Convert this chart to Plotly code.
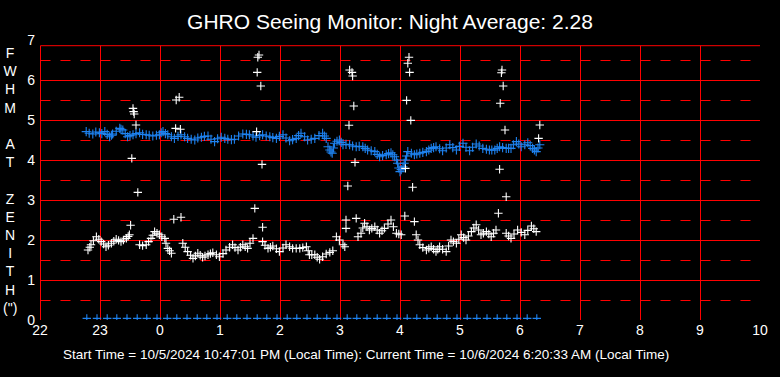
import plotly.graph_objects as go

# ---------------- data ----------------
title_text = "GHRO Seeing Monitor: Night Average: 2.28"
footer_text = "Start Time = 10/5/2024 10:47:01 PM (Local Time): Current Time = 10/6/2024 6:20:33 AM (Local Time)"
y_label_letters = ["F", "W", "H", "M", "", "A", "T", "", "Z", "E", "N", "I", "T", "H", "(\")"]

x_tick_vals = [22, 23, 24, 25, 26, 27, 28, 29, 30, 31, 32, 33, 34]
x_tick_text = ["22", "23", "0", "1", "2", "3", "4", "5", "6", "7", "8", "9", "10"]
y_tick_vals = [0, 1, 2, 3, 4, 5, 6, 7]

# blue series (hours since midnight of start day, FWHM)
blue_t = [22.77, 22.82, 22.88, 22.93, 22.99, 23.03, 23.08, 23.12, 23.16, 23.19, 23.21, 23.27, 23.33, 23.35,
          23.38, 23.42, 23.46, 23.50, 23.55, 23.60, 23.66, 23.71, 23.77, 23.82, 23.88, 23.94, 23.99, 24.02,
          24.05, 24.09, 24.13, 24.19, 24.24, 24.30, 24.35, 24.41, 24.46, 24.52, 24.58, 24.63, 24.69, 24.74,
          24.80, 24.85, 24.91, 24.96, 25.02, 25.08, 25.13, 25.19, 25.24, 25.31, 25.38, 25.44, 25.49, 25.55,
          25.60, 25.66, 25.71, 25.77, 25.83, 25.88, 25.94, 25.99, 26.05, 26.10, 26.16, 26.21, 26.27, 26.31,
          26.35, 26.41, 26.46, 26.52, 26.58, 26.65, 26.71, 26.74, 26.77, 26.80, 26.83, 26.85, 26.87, 26.89,
          26.91, 26.95, 26.99, 27.02, 27.05, 27.10, 27.16, 27.21, 27.27, 27.32, 27.38, 27.42, 27.46, 27.52,
          27.58, 27.62, 27.66, 27.71, 27.77, 27.81, 27.85, 27.88, 27.91, 27.94, 27.96, 27.98, 28.00, 28.02,
          28.05, 28.07, 28.09, 28.11, 28.13, 28.19, 28.24, 28.28, 28.33, 28.38, 28.44, 28.48, 28.52, 28.56,
          28.60, 28.66, 28.71, 28.77, 28.83, 28.88, 28.94, 28.99, 29.05, 29.10, 29.16, 29.21, 29.27, 29.32,
          29.38, 29.44, 29.49, 29.53, 29.58, 29.62, 29.66, 29.71, 29.77, 29.81, 29.85, 29.89, 29.94, 29.98,
          30.02, 30.08, 30.13, 30.17, 30.21, 30.24, 30.27, 30.30, 30.33]
blue_v = [4.71, 4.67, 4.65, 4.70, 4.68, 4.66, 4.71, 4.64, 4.58, 4.62, 4.65, 4.72, 4.79, 4.77,
          4.75, 4.66, 4.58, 4.61, 4.63, 4.66, 4.68, 4.64, 4.63, 4.62, 4.60, 4.62, 4.63, 4.68,
          4.71, 4.66, 4.63, 4.58, 4.54, 4.59, 4.63, 4.58, 4.54, 4.52, 4.50, 4.55, 4.57, 4.59,
          4.60, 4.52, 4.46, 4.53, 4.57, 4.54, 4.52, 4.51, 4.52, 4.60, 4.65, 4.64, 4.63, 4.60,
          4.57, 4.61, 4.63, 4.60, 4.58, 4.56, 4.54, 4.59, 4.63, 4.55, 4.48, 4.51, 4.54, 4.61,
          4.67, 4.58, 4.50, 4.52, 4.54, 4.61, 4.67, 4.60, 4.54, 4.33, 4.25, 4.20, 4.17, 4.30,
          4.42, 4.47, 4.50, 4.44, 4.38, 4.39, 4.38, 4.35, 4.33, 4.34, 4.33, 4.29, 4.25, 4.23,
          4.21, 4.14, 4.08, 4.11, 4.13, 4.16, 4.18, 4.13, 4.08, 4.00, 3.92, 3.80, 3.71, 3.76,
          3.83, 3.92, 4.00, 4.10, 4.21, 4.17, 4.13, 4.15, 4.17, 4.19, 4.21, 4.25, 4.29, 4.31,
          4.33, 4.28, 4.23, 4.30, 4.38, 4.31, 4.25, 4.34, 4.42, 4.32, 4.23, 4.32, 4.40, 4.35,
          4.29, 4.27, 4.25, 4.25, 4.25, 4.29, 4.33, 4.31, 4.29, 4.29, 4.29, 4.38, 4.46, 4.40,
          4.33, 4.38, 4.43, 4.36, 4.29, 4.25, 4.21, 4.30, 4.38]

# white series
white_t = [22.80, 22.83, 22.85, 22.89, 22.94, 22.98, 23.02, 23.06, 23.10, 23.14, 23.19, 23.23, 23.27, 23.31,
           23.35, 23.39, 23.44, 23.47, 23.49, 23.66, 23.71, 23.77, 23.81, 23.85, 23.88, 23.91, 23.95, 23.99,
           24.03, 24.08, 24.10, 24.13, 24.16, 24.19, 24.38, 24.42, 24.46, 24.51, 24.55, 24.59, 24.63, 24.67,
           24.71, 24.75, 24.80, 24.84, 24.88, 24.94, 24.99, 25.05, 25.10, 25.16, 25.21, 25.25, 25.30, 25.34,
           25.38, 25.42, 25.46, 25.50, 25.55, 25.71, 25.75, 25.80, 25.84, 25.88, 25.94, 25.99, 26.05, 26.10,
           26.16, 26.21, 26.27, 26.33, 26.38, 26.44, 26.47, 26.49, 26.53, 26.58, 26.62, 26.66, 26.71, 26.77,
           26.83, 26.88, 26.94, 26.99, 27.05, 27.08, 27.30, 27.35, 27.38, 27.41, 27.45, 27.49, 27.53, 27.58,
           27.62, 27.66, 27.70, 27.74, 27.80, 27.85, 27.89, 27.94, 27.98, 28.02, 28.27, 28.30, 28.33, 28.38,
           28.44, 28.48, 28.52, 28.56, 28.60, 28.63, 28.66, 28.71, 28.77, 28.81, 28.85, 28.89, 28.94, 28.98,
           29.02, 29.06, 29.10, 29.14, 29.19, 29.23, 29.27, 29.31, 29.35, 29.39, 29.44, 29.48, 29.52, 29.56,
           29.60, 29.77, 29.81, 29.85, 29.90, 29.96, 30.02, 30.08, 30.13, 30.19, 30.23, 30.27]
white_v = [1.75, 1.82, 1.88, 1.98, 2.08, 2.02, 1.96, 1.90, 1.83, 1.87, 1.92, 1.97, 2.02, 1.99,
           1.96, 2.00, 2.04, 2.09, 2.13, 1.88, 1.86, 1.88, 1.96, 2.04, 2.12, 2.21, 2.17, 2.13,
           2.08, 2.04, 1.92, 1.79, 1.73, 1.67, 1.92, 1.82, 1.71, 1.62, 1.54, 1.60, 1.67, 1.62,
           1.57, 1.60, 1.63, 1.66, 1.68, 1.63, 1.58, 1.66, 1.75, 1.82, 1.88, 1.81, 1.75, 1.82,
           1.88, 1.83, 1.79, 1.92, 2.04, 1.96, 1.87, 1.79, 1.82, 1.85, 1.78, 1.71, 1.80, 1.88,
           1.83, 1.79, 1.79, 1.79, 1.81, 1.83, 1.73, 1.63, 1.63, 1.63, 1.57, 1.52, 1.58, 1.65,
           1.69, 1.73, 2.08, 2.00, 1.88, 1.83, 2.08, 2.17, 2.30, 2.42, 2.33, 2.25, 2.29, 2.33,
           2.25, 2.17, 2.23, 2.29, 2.40, 2.50, 2.33, 2.17, 2.15, 2.13, 2.13, 2.00, 1.88, 1.81,
           1.75, 1.79, 1.83, 1.77, 1.71, 1.77, 1.83, 1.77, 1.71, 1.85, 2.00, 1.96, 1.92, 2.02,
           2.13, 2.06, 2.00, 2.10, 2.21, 2.30, 2.38, 2.25, 2.13, 2.17, 2.21, 2.15, 2.08, 2.17,
           2.25, 2.17, 2.10, 2.04, 2.15, 2.25, 2.19, 2.13, 2.24, 2.35, 2.28, 2.21]

# isolated white outliers
outlier_t = [23.51, 23.53, 23.55, 23.56, 23.57, 23.60, 23.63,
             24.23, 24.26, 24.27, 24.32, 24.34, 24.35,
             25.58, 25.61, 25.62, 25.63, 25.65, 25.68, 25.70, 25.71,
             27.10, 27.10, 27.13, 27.15, 27.16, 27.20, 27.21, 27.23, 27.25, 27.27,
             28.08, 28.09, 28.11, 28.13, 28.15, 28.16, 28.18, 28.21, 28.24,
             29.64, 29.66, 29.67, 29.69, 29.70, 29.72, 29.75, 29.77,
             30.31, 30.33]
outlier_v = [2.37, 4.04, 5.29, 5.21, 5.15, 4.875, 3.19,
             2.52, 4.79, 5.50, 5.57, 4.77, 2.57,
             2.79, 4.71, 6.19, 6.57, 6.625, 5.85, 3.89, 2.32,
             2.29, 2.50, 3.35, 4.87, 6.25, 6.19, 6.10, 5.35, 3.94, 2.54,
             2.60, 3.79, 5.49, 6.42, 6.57, 6.19, 4.99, 3.32, 2.46,
             2.67, 3.77, 5.42, 6.18, 6.25, 5.85, 4.75, 3.08,
             4.54, 4.875]

# blue status markers along the bottom (every 10 minutes)
status_t = [22.78, 22.95, 23.12, 23.28, 23.45, 23.62, 23.78, 23.95, 24.12, 24.28, 24.45, 24.62,
            24.78, 24.95, 25.12, 25.28, 25.45, 25.62, 25.78, 25.95, 26.12, 26.28, 26.45, 26.62,
            26.78, 26.95, 27.12, 27.28, 27.45, 27.62, 27.78, 27.95, 28.12, 28.28, 28.45, 28.62,
            28.78, 28.95, 29.12, 29.28, 29.45, 29.62, 29.78, 29.95, 30.12, 30.28]
status_v = [0.04] * len(status_t)

# ---------------- styling ----------------
FONT = "Liberation Sans, Arial, sans-serif"
RED = "#ff0000"
BLUE = "#1e82f0"
X0, X1 = 22, 34
Y_TOP = 6.87
W, H = 780, 377
ML, MR, MT, MB = 40, 20, 40, 57
PW, PH = W - ML - MR, H - MT - MB      # 720 x 280
# half-pixel nudges so 1px grid lines fall exactly on pixel rows/columns
DX = 0.5 / (PW / (X1 - X0))
DY = 0.5 / (PH / 7)

def cross(color, size=6):
    return dict(symbol="cross-thin", size=size, color=color, line=dict(color=color, width=1.1))

fig = go.Figure()
fig.add_trace(go.Scatter(x=blue_t, y=blue_v, mode="markers", marker=cross(BLUE, 6.5), hoverinfo="skip"))
fig.add_trace(go.Scatter(x=white_t, y=white_v, mode="markers", marker=cross("white"), hoverinfo="skip"))
fig.add_trace(go.Scatter(x=outlier_t, y=outlier_v, mode="markers", marker=cross("white"), hoverinfo="skip"))
fig.add_trace(go.Scatter(x=status_t, y=status_v, mode="markers", marker=cross(BLUE, 6), hoverinfo="skip"))

LW = 1
shapes = []
for xv in x_tick_vals[1:-1]:
    shapes.append(dict(type="line", x0=xv + DX, x1=xv + DX, y0=0 - DY, y1=Y_TOP - DY, xref="x", yref="y",
                       line=dict(color=RED, width=LW), layer="below"))
for yv in y_tick_vals[1:-1]:
    shapes.append(dict(type="line", x0=X0 + DX, x1=X1 + DX, y0=yv - DY, y1=yv - DY, xref="x", yref="y",
                       line=dict(color=RED, width=LW), layer="below"))
for yv in y_tick_vals[:-1]:
    shapes.append(dict(type="line", x0=X0 + DX, x1=X1 + DX, y0=yv + 0.5 - DY, y1=yv + 0.5 - DY,
                       xref="x", yref="y",
                       line=dict(color=RED, width=LW, dash="10px,10px"), layer="below"))
shapes.append(dict(type="rect", x0=X0 + DX, x1=X1 + DX, y0=0 - DY, y1=Y_TOP - DY, xref="x", yref="y",
                   line=dict(color=RED, width=LW), layer="below"))

fig.update_layout(
    width=W, height=H,
    margin=dict(l=ML, r=MR, t=MT, b=MB, pad=0),
    paper_bgcolor="black", plot_bgcolor="black",
    showlegend=False,
    shapes=shapes,
    font=dict(family=FONT, color="white", size=14),
    title=dict(text=title_text, x=0.5, xanchor="center", xref="container",
               y=1 - 22 / H, yref="container", yanchor="middle",
               font=dict(family=FONT, size=21, color="white")),
    xaxis=dict(range=[X0, X1], tickvals=x_tick_vals, ticktext=x_tick_text, showgrid=False,
               zeroline=False, showline=False, ticks="", tickfont=dict(size=14, color="white")),
    yaxis=dict(range=[0, 7], tickvals=y_tick_vals, showgrid=False, zeroline=False,
               showline=False, ticks="", ticklabelstandoff=4, tickfont=dict(size=14, color="white")),
    annotations=[
        dict(text="<br>".join(y_label_letters), xref="paper", yref="paper",
             x=(11 - ML) / PW, y=(H - MB - 180) / PH, xanchor="center", yanchor="middle",
             showarrow=False, font=dict(size=14, color="white", family=FONT)),
        dict(text=footer_text, xref="paper", yref="paper",
             x=(366 - ML) / PW, y=(H - MB - 354) / PH, xanchor="center", yanchor="middle",
             showarrow=False, font=dict(size=13.5, color="white", family=FONT)),
    ],
)

fig.write_html("out.html", config={"displayModeBar": False},
               post_script="document.body.style.margin='0';document.body.style.background='black';")
